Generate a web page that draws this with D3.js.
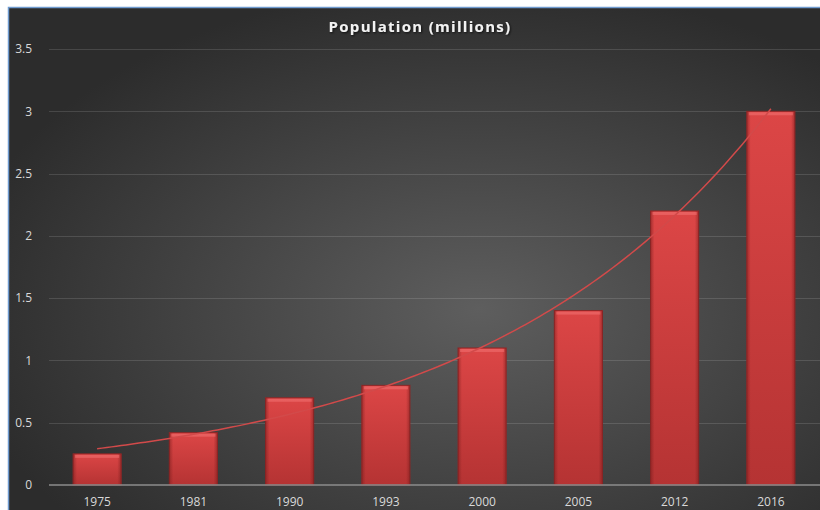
<!DOCTYPE html>
<html>
<head>
<meta charset="utf-8">
<script src="https://cdn.jsdelivr.net/npm/d3@7"></script>
<style>
  body { margin: 0; background: #fff; }
  svg { display: block; }
</style>
</head>
<body>
<div id="chart"></div>
<script>
// chart data
const years = ["1975", "1981", "1990", "1993", "2000", "2005", "2012", "2016"];
const population = [0.25, 0.42, 0.7, 0.8, 1.1, 1.4, 2.2, 3.0];
const yTicks = [0, 0.5, 1, 1.5, 2, 2.5, 3, 3.5];
const chartTitle = "Population (millions)";

const W = 820, H = 510;
const margin = { top: 49, right: 1, bottom: 25, left: 49 };

const svg = d3.select("#chart").append("svg")
  .attr("width", W)
  .attr("height", H);

const defs = svg.append("defs");

// dark radial background
const bg = defs.append("radialGradient")
  .attr("id", "bgGrad")
  .attr("cx", "58%").attr("cy", "60%").attr("r", "65%");
bg.append("stop").attr("offset", "0%").attr("stop-color", "#5e5e5e");
bg.append("stop").attr("offset", "100%").attr("stop-color", "#2c2c2c");

// bar fill
const barGrad = defs.append("linearGradient")
  .attr("id", "barGrad")
  .attr("x1", 0).attr("y1", 0).attr("x2", 0).attr("y2", 1);
barGrad.append("stop").attr("offset", "0%").attr("stop-color", "#dc4646");
barGrad.append("stop").attr("offset", "100%").attr("stop-color", "#b53333");

const barSide = defs.append("linearGradient")
  .attr("id", "barSide")
  .attr("x1", 0).attr("y1", 0).attr("x2", 1).attr("y2", 0);
barSide.append("stop").attr("offset", "0%").attr("stop-color", "#7a1d1d").attr("stop-opacity", 0.55);
barSide.append("stop").attr("offset", "8%").attr("stop-color", "#7a1d1d").attr("stop-opacity", 0);
barSide.append("stop").attr("offset", "92%").attr("stop-color", "#7a1d1d").attr("stop-opacity", 0);
barSide.append("stop").attr("offset", "100%").attr("stop-color", "#7a1d1d").attr("stop-opacity", 0.55);

const shadow = defs.append("filter").attr("id", "txtShadow");
shadow.append("feDropShadow")
  .attr("dx", 1).attr("dy", 1).attr("stdDeviation", 1)
  .attr("flood-color", "#000").attr("flood-opacity", 0.7);

// chart area background with blue border
svg.append("rect")
  .attr("x", 8).attr("y", 8)
  .attr("width", W - 8).attr("height", H - 8)
  .attr("fill", "url(#bgGrad)");
svg.append("path")
  .attr("d", `M8.5,${H} V7.5 H${W}`)
  .attr("fill", "none")
  .attr("stroke", "#6f9bd0")
  .attr("stroke-width", 1.5);

const x = d3.scaleBand()
  .domain(years)
  .range([margin.left, W - margin.right])
  .paddingInner(0.5)
  .paddingOuter(0.25);

const y = d3.scaleLinear()
  .domain([0, 3.5])
  .range([H - margin.bottom, margin.top]);

// gridlines
svg.append("g")
  .selectAll("line")
  .data(yTicks.filter(d => d > 0))
  .join("line")
  .attr("x1", margin.left).attr("x2", W)
  .attr("y1", d => Math.round(y(d)) + 0.5)
  .attr("y2", d => Math.round(y(d)) + 0.5)
  .attr("stroke", "#ffffff")
  .attr("stroke-opacity", 0.13)
  .attr("stroke-width", 1);

// y axis labels
const yAxis = svg.append("g")
  .attr("transform", `translate(${margin.left - 14},0)`)
  .call(d3.axisLeft(y).tickValues(yTicks).tickSize(0).tickFormat(d3.format("~g")));
yAxis.select(".domain").remove();
yAxis.selectAll("text")
  .attr("fill", "#d9d9d9")
  .attr("font-family", "Open Sans, sans-serif")
  .attr("font-size", 12);

// bars
const bars = svg.append("g").selectAll("g")
  .data(years.map((yr, i) => ({ yr, v: population[i] })))
  .join("g");

bars.append("rect")
  .attr("x", d => x(d.yr))
  .attr("y", d => y(d.v))
  .attr("width", x.bandwidth())
  .attr("height", d => y(0) - y(d.v))
  .attr("fill", "url(#barGrad)")
  .attr("stroke", "#8e2626")
  .attr("stroke-width", 1);

bars.append("rect")
  .attr("x", d => x(d.yr))
  .attr("y", d => y(d.v))
  .attr("width", x.bandwidth())
  .attr("height", d => y(0) - y(d.v))
  .attr("fill", "url(#barSide)");

// bevel highlight on bar top
bars.append("rect")
  .attr("x", d => x(d.yr) + 2)
  .attr("y", d => y(d.v) + 1)
  .attr("width", x.bandwidth() - 4)
  .attr("height", 3)
  .attr("fill", "#f07070")
  .attr("opacity", 0.6);

// baseline
svg.append("line")
  .attr("x1", margin.left).attr("x2", W)
  .attr("y1", y(0)).attr("y2", y(0))
  .attr("stroke", "#8c8c8c")
  .attr("stroke-width", 1.5);

// x axis labels
const xAxis = svg.append("g")
  .attr("transform", `translate(0,${y(0) + 9})`)
  .call(d3.axisBottom(x).tickSize(0));
xAxis.select(".domain").remove();
xAxis.selectAll("text")
  .attr("fill", "#d9d9d9")
  .attr("font-family", "Open Sans, sans-serif")
  .attr("font-size", 12);

// exponential trendline (least squares on log values, like Excel)
const idx = population.map((_, i) => i + 1);
const lnv = population.map(v => Math.log(v));
const mx = d3.mean(idx), my = d3.mean(lnv);
const b = d3.sum(idx, (xi, i) => (xi - mx) * (lnv[i] - my)) / d3.sum(idx, xi => (xi - mx) * (xi - mx));
const a = my - b * mx;
const trendX = d3.scaleLinear().domain([1, years.length])
  .range([x(years[0]) + x.bandwidth() / 2, x(years[years.length - 1]) + x.bandwidth() / 2]);
const trendPts = d3.range(1, years.length + 0.001, 0.05);

svg.append("path")
  .datum(trendPts)
  .attr("d", d3.line().x(t => trendX(t)).y(t => y(Math.exp(a + b * t))))
  .attr("fill", "none")
  .attr("stroke", "#d24a4a")
  .attr("stroke-width", 1.5);

// title
svg.append("text")
  .attr("x", 420)
  .attr("y", 32)
  .attr("text-anchor", "middle")
  .attr("fill", "#f2f2f2")
  .attr("font-family", "Open Sans, sans-serif")
  .attr("font-weight", "bold")
  .attr("font-size", 15)
  .attr("letter-spacing", 1.3)
  .attr("filter", "url(#txtShadow)")
  .text(chartTitle);
</script>
</body>
</html>
